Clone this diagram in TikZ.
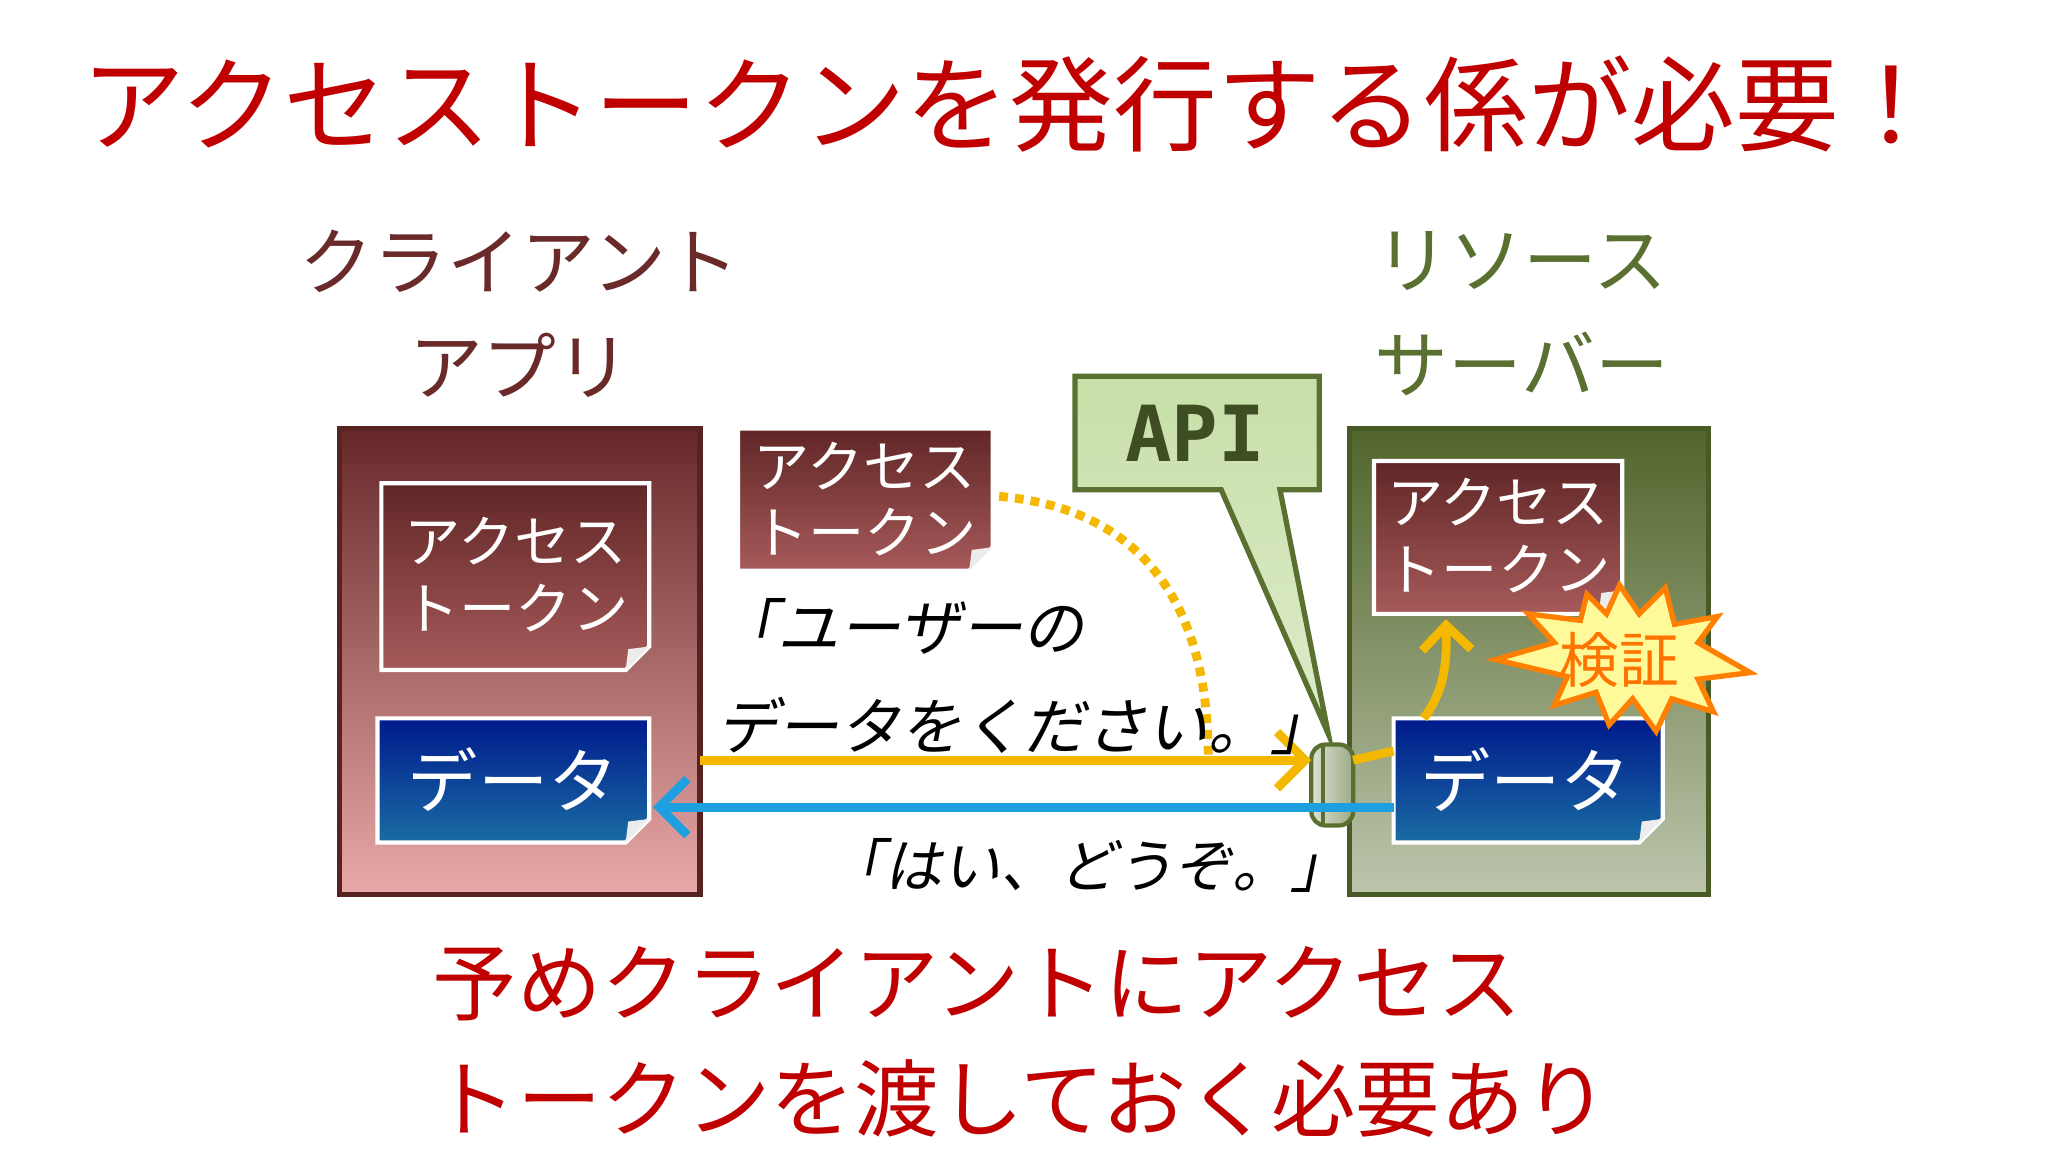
\documentclass[tikz,border=0pt]{standalone}
\usepackage{fontspec}
\setmainfont{Noto Sans CJK JP}
\newfontfamily\cjkit[FakeSlant=0.2]{Noto Sans CJK JP}
\newfontfamily\apifont{DejaVu Sans Mono}
\usetikzlibrary{arrows.meta,shapes.symbols}
\definecolor{tred}{HTML}{C00000}
\definecolor{cbrown}{HTML}{6B2A2A}
\definecolor{sgreen}{HTML}{5A7030}
\definecolor{ayel}{HTML}{F5B800}
\definecolor{ablue}{HTML}{1EA0E0}
\definecolor{apifill}{HTML}{C8DFA8}
\tikzset{
 cardtxt/.style={text=white,align=center,font=\fontsize{16}{19}\selectfont,inner sep=0pt},
 redcard/.style={draw=white,line width=1.2pt,top color=cbrown!90!black,bottom color=cbrown!70!white!85!red},
 bluecard/.style={draw=white,line width=1.2pt,top color=blue!50!black!90!cyan,bottom color=blue!40!cyan!60!black!90!white},
}
\newcommand\mycard[5]{\path[#5] (#1,#2) -- (#3,#2) -- (#3,#4-18) -- (#3-18,#4) -- (#1,#4) -- cycle;
 \fill[white!85!gray] (#3,#4-18) -- (#3-18,#4) -- (#3-16,#4-16) -- cycle;}
\begin{document}
\begin{tikzpicture}[x=0.01306cm,y=-0.01306cm]
\useasboundingbox[fill=white] (0,0) rectangle (1568,882);
\node[text=tred,font=\fontsize{29.5}{32}\selectfont] (title) at (775,80) {アクセストークンを発行する係が必要！};
\node[text=cbrown,align=center,font=\fontsize{21}{30}\selectfont] (client) at (398,240) {クライアント\\アプリ};
\node[text=sgreen,align=center,font=\fontsize{21}{30}\selectfont] (server) at (1165,240) {リソース\\サーバー};
% client box
\path[draw=cbrown!80!black,line width=1.5pt,top color=cbrown!95!black,bottom color=red!25!white!85!cbrown] (260,328) rectangle (536,685);
\mycard{292}{370}{497}{513}{redcard}
\node[cardtxt] (ctok) at (395,440) {アクセス\\トークン};
\mycard{289}{550}{497}{645}{bluecard}
\node[cardtxt,font=\fontsize{20}{24}\selectfont] (cdata) at (393,597) {データ};
% floating token
\mycard{565}{328}{760}{437}{redcard}
\node[cardtxt] (ftok) at (662,382) {アクセス\\トークン};
% server box
\path[draw=sgreen!80!black,line width=1.5pt,top color=sgreen!90!black,bottom color=sgreen!40!white] (1033,328) rectangle (1308,685);
\mycard{1052}{353}{1242}{470}{redcard}
\node[cardtxt] (stok) at (1147,410) {アクセス\\トークン};
\mycard{1067}{550}{1273}{645}{bluecard}
\node[cardtxt,font=\fontsize{20}{24}\selectfont] (sdata) at (1168,597) {データ};
% API callout
\path[draw=sgreen,line width=1.5pt,top color=apifill,bottom color=apifill!60!white] (823,288) -- (1010,288) -- (1010,375) -- (980,375) -- (1017,562) -- (935,375) -- (823,375) -- cycle;
\node[font=\apifont\bfseries\fontsize{22}{24}\selectfont,text=sgreen!70!black] (api) at (915,332) {API};
% cylinder
\path[draw=sgreen,line width=1.2pt,left color=white!80!sgreen,right color=sgreen!60!white,rounded corners=4pt] (1004,570) rectangle (1036,632);
\draw[sgreen,line width=1.2pt] (1013,570) -- (1013,632);
\coordinate (cylL) at (1004,582);
% arrows
\coordinate (cOut) at (536,582);
\coordinate (cIn) at (500,618);
\coordinate (sOut) at (1067,618);
\coordinate (cylR) at (1036,582);
\coordinate (sIn) at (1067,575);
\draw[ayel,line width=2.5pt,-{Straight Barb[length=8pt]}] (cOut) -- (cylL);
\draw[ablue,line width=2.5pt,-{Straight Barb[length=8pt]}] (sOut) -- (cIn);
\draw[ayel,line width=2.5pt] (cylR) -- (sIn);
\coordinate (dotS) at (765,380);
\coordinate (dotE) at (925,578);
\draw[ayel,line width=2.5pt,dotted] (dotS) .. controls (880,390) and (925,470) .. (dotE);
\coordinate (vS) at (1090,550);
\coordinate (vE) at (1107,474);
\draw[ayel,line width=2.5pt,-{Straight Barb[length=7pt]}] (vS) .. controls (1105,530) and (1108,510) .. (vE);
% texts
\node[align=left,anchor=north west,inner sep=0pt,font=\cjkit\fontsize{17.5}{28}\selectfont] (req) at (548,458) {「ユーザーの\\データをください。」};
\node[anchor=west,inner sep=0pt,font=\cjkit\fontsize{16.5}{20}\selectfont] (resp) at (632,663) {「はい、どうぞ。」};
% starburst
\path[draw=orange,line width=1.5pt,fill=yellow!40!white]
 (1240,448) -- (1255,470) -- (1275,450) -- (1282,478) -- (1315,472) -- (1300,492) -- (1340,515) -- (1300,520) -- (1312,545) -- (1280,535) -- (1268,560) -- (1250,535) -- (1232,555) -- (1222,530) -- (1190,540) -- (1200,518) -- (1145,505) -- (1190,492) -- (1170,470) -- (1210,475) -- (1215,455) -- (1230,470) -- cycle;
\node[text=orange!90!red,font=\fontsize{17}{20}\selectfont] (verify) at (1240,505) {検証};
% bottom
\node[text=tred,align=left,anchor=north west,font=\fontsize{24}{33}\selectfont] (note) at (322,715) {予めクライアントにアクセス\\トークンを渡しておく必要あり};
\end{tikzpicture}
\end{document}
